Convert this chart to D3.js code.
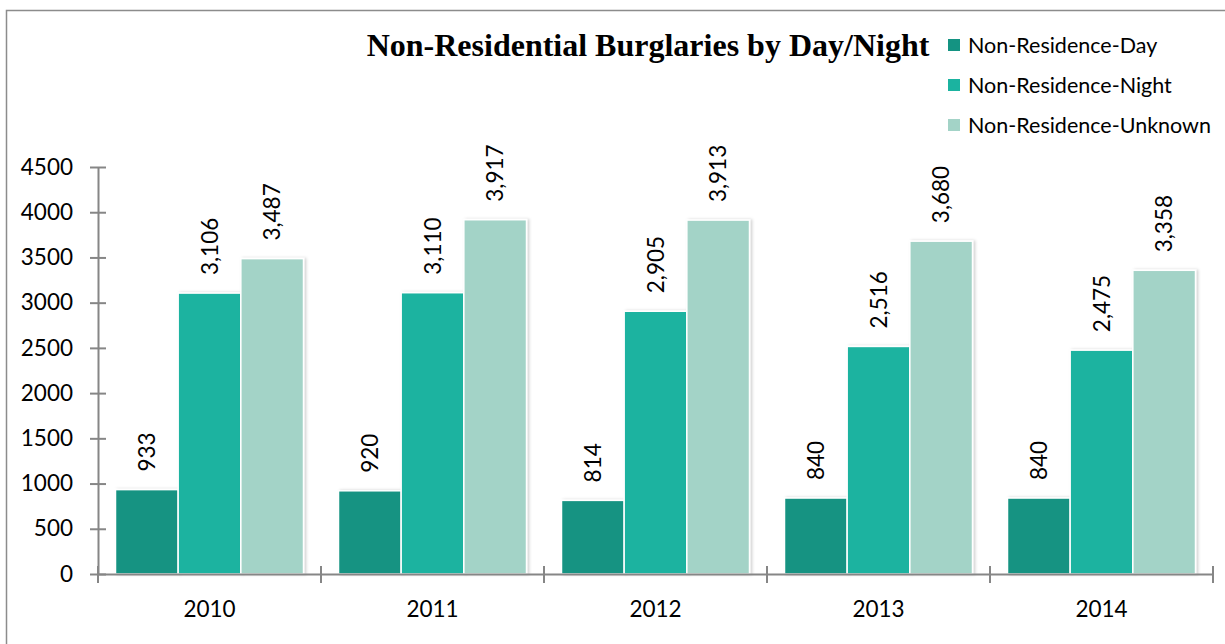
<!DOCTYPE html>
<html>
<head>
<meta charset="utf-8">
<script src="https://cdn.jsdelivr.net/npm/d3@7"></script>
<style>
  body { margin: 0; background: #fff; }
  svg { display: block; }
</style>
</head>
<body>
<svg id="chart"></svg>
<script>
const size = {w: 1225, h: 644};
const svg = d3.select('svg#chart')
    .attr('width', size.w)
    .attr('height', size.h);

// data
const years = ['2010', '2011', '2012', '2013', '2014'];
const series = ['Non-Residence-Day', 'Non-Residence-Night', 'Non-Residence-Unknown'];
const dayValues = [933, 920, 814, 840, 840];
const nightValues = [3106, 3110, 2905, 2516, 2475];
const unknownValues = [3487, 3917, 3913, 3680, 3358];
const yTicks = [0, 500, 1000, 1500, 2000, 2500, 3000, 3500, 4000, 4500];
const colors = ['#149382', '#1bb3a0', '#a3d3c7'];

const valuesBySeries = [dayValues, nightValues, unknownValues];

// plot area
const plot = {l: 98, r: 1213, t: 167, b: 574};

const yScale = d3.scaleLinear()
    .domain([0, 4500])
    .range([plot.b, plot.t]);

const xScale = d3.scaleBand()
    .domain(years)
    .range([plot.l, plot.r]);

const xSub = d3.scaleBand()
    .domain(series)
    .range([17.5, xScale.bandwidth() - 17.5]);

const color = d3.scaleOrdinal(series, colors);

// outer frame (only top/left show in the picture)
svg.append('path')
    .attr('d', `M6.5,${size.h} V10.5 H${size.w}`)
    .attr('fill', 'none')
    .attr('stroke', '#8c8c8c')
    .attr('stroke-width', 1.5);

// soft shadow under the bars
const defs = svg.append('defs');
const shadow = defs.append('filter')
    .attr('id', 'shadow')
    .attr('x', '-10%').attr('y', '-5%')
    .attr('width', '130%').attr('height', '115%');
shadow.append('feDropShadow')
    .attr('dx', 2).attr('dy', 0)
    .attr('stdDeviation', 1.5)
    .attr('flood-color', '#000')
    .attr('flood-opacity', 0.18);

// flatten into rows
const rows = [];
years.forEach((year, i) => {
    series.forEach((s, j) => {
        rows.push({year: year, series: s, value: valuesBySeries[j][i]});
    });
});

// bars
const barsG = svg.append('g').classed('bars', true);
barsG.selectAll('rect')
    .data(rows)
    .join('rect')
    .attr('x', d => xScale(d.year) + xSub(d.series))
    .attr('y', d => yScale(d.value))
    .attr('width', xSub.bandwidth())
    .attr('height', d => yScale(0) - yScale(d.value))
    .attr('fill', d => color(d.series))
    .attr('stroke', '#fff')
    .attr('stroke-width', 1.5)
    .attr('filter', 'url(#shadow)');

// value labels, rotated
svg.append('g')
    .classed('labels', true)
    .selectAll('text')
    .data(rows)
    .join('text')
    .attr('transform', d => {
        const x = xScale(d.year) + xSub(d.series) + xSub.bandwidth() / 2;
        const y = yScale(d.value) - 18;
        return `translate(${x + 8}, ${y}) rotate(-90)`;
    })
    .attr('font-family', 'Lato, "Open Sans", sans-serif')
    .attr('font-size', 22.5)
    .attr('fill', '#000')
    .text(d => d3.format(',')(d.value));

// y axis
const yAxis = svg.append('g')
    .classed('axis-y', true)
    .attr('transform', `translate(${plot.l}, 0)`)
    .call(d3.axisLeft(yScale).tickValues(yTicks).tickSize(8).tickSizeOuter(0).tickPadding(17).tickFormat(d3.format('d')));
yAxis.selectAll('.tick line').attr('x2', 8).attr('x1', -8);

// x axis
const xAxis = svg.append('g')
    .classed('axis-x', true)
    .attr('transform', `translate(0, ${plot.b})`)
    .call(d3.axisBottom(xScale).tickSize(0).tickPadding(27));
// category boundary ticks
xAxis.selectAll('line.bound')
    .data(d3.range(years.length + 1))
    .join('line')
    .classed('bound', true)
    .attr('x1', i => plot.l + i * xScale.step())
    .attr('x2', i => plot.l + i * xScale.step())
    .attr('y1', -8)
    .attr('y2', 9);

svg.selectAll('.axis-x path, .axis-y path, .axis-x line, .axis-y line')
    .attr('stroke', '#868686')
    .attr('stroke-width', 2);
svg.selectAll('.axis-x text, .axis-y text')
    .attr('font-family', 'Lato, "Open Sans", sans-serif')
    .attr('font-size', 22.5)
    .attr('fill', '#000');

// title
svg.append('text')
    .attr('x', 648)
    .attr('y', 56)
    .attr('text-anchor', 'middle')
    .attr('font-family', '"Liberation Serif", "Times New Roman", serif')
    .attr('font-weight', 'bold')
    .attr('font-size', 32)
    .attr('fill', '#000')
    .text('Non-Residential Burglaries by Day/Night');

// legend
const legend = svg.append('g')
    .classed('legend', true)
    .selectAll('g')
    .data(series)
    .join('g')
    .attr('transform', (d, i) => `translate(948, ${45 + i * 40})`);
legend.append('rect')
    .attr('x', 0).attr('y', -6)
    .attr('width', 12).attr('height', 12)
    .attr('fill', d => color(d));
legend.append('text')
    .attr('x', 20)
    .attr('y', 0)
    .attr('dy', '0.35em')
    .attr('font-family', 'Lato, "Open Sans", sans-serif')
    .attr('font-size', 21.5)
    .attr('fill', '#000')
    .text(d => d);
</script>
</body>
</html>
